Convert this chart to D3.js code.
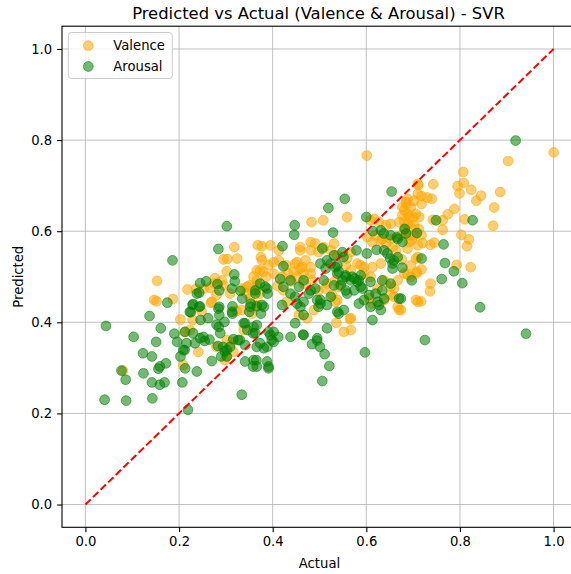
<!DOCTYPE html>
<html>
<head>
<meta charset="utf-8">
<script src="https://cdn.jsdelivr.net/npm/d3@7"></script>
<style>
  html, body { margin: 0; padding: 0; background: #fff; }
  svg { display: block; font-family: "DejaVu Sans", sans-serif; }
</style>
</head>
<body>
<svg id="chart" width="571" height="574"></svg>
<script>
// Valence: actual vs predicted
const valenceActual = [
  0.153,0.218,0.147,0.152,0.187,0.318,0.295,0.303,0.324,0.302,0.277,0.292,0.253,0.268,0.280,0.309,0.334,0.345,0.356,0.366,0.368,
  0.377,0.375,0.391,0.373,0.386,0.275,0.295,0.236,0.266,0.248,0.203,0.229,0.323,0.334,0.350,0.359,0.345,0.352,0.366,0.402,0.413,0.429,0.433,0.395,0.413,
  0.559,0.508,0.483,0.377,0.380,0.402,0.459,0.481,0.491,0.481,0.498,0.470,0.452,0.459,0.466,0.445,0.524,0.538,0.559,0.567,
  0.609,0.620,0.634,0.656,0.663,0.674,0.681,0.681,0.688,0.695,0.702,0.710,0.710,0.706,0.713,0.702,0.688,0.710,0.695,
  0.588,0.595,0.567,0.556,0.541,0.534,0.516,0.527,0.538,0.638,0.652,0.667,0.681,0.695,0.659,0.638,0.667,0.706,0.423,0.420,0.366,0.373,
  1.000,0.903,0.807,0.808,0.795,0.799,0.824,0.743,0.711,0.886,0.845,0.835,0.718,0.730,0.740,0.718,0.688,0.685,0.681,0.677,
  0.873,0.788,0.774,0.763,0.742,0.701,0.688,0.810,0.871,0.763,0.712,0.694,0.718,0.697,0.803,0.819,0.815,0.720,0.737,0.745,
  0.676,0.718,0.707,0.688,0.793,0.823,0.737,0.736,0.717,0.674,
  0.617,0.627,0.642,0.652,0.670,0.677,0.685,0.692,0.695,0.702,0.602,0.613,0.631,0.642,0.652,0.692,0.710,0.706,
  0.459,0.509,0.531,0.448,0.452,0.463,0.481,0.481,0.466,0.484,0.581,0.609,0.631,0.613,0.595,0.624,0.659,0.652,0.606,0.613,
  0.670,0.567,0.552,0.567,0.534,0.513,0.498,0.488,0.474,0.456,0.708,
  0.212,0.223,0.241,0.280,0.302,0.313,0.302,0.316,0.338,0.209,0.270,0.298,0.356,0.366,0.080,0.536,0.565,0.710,
  0.601,0.430,0.410,0.440
];
const valencePredicted = [
  0.491,0.472,0.449,0.446,0.451,0.565,0.538,0.539,0.540,0.512,0.497,0.492,0.474,0.443,0.460,0.463,0.474,0.478,0.470,0.481,0.569,
  0.567,0.543,0.526,0.514,0.500,0.485,0.481,0.473,0.476,0.424,0.406,0.405,0.425,0.427,0.481,0.500,0.463,0.452,0.514,0.507,0.536,0.525,0.507,0.569,0.558,
  0.631,0.624,0.620,0.536,0.511,0.532,0.558,0.576,0.573,0.558,0.554,0.536,0.532,0.518,0.507,0.511,0.558,0.547,0.540,0.554,
  0.624,0.591,0.583,0.565,0.558,0.591,0.602,0.620,0.638,0.653,0.667,0.682,0.704,0.638,0.631,0.591,0.562,0.543,0.525,
  0.525,0.521,0.514,0.525,0.478,0.492,0.485,0.460,0.449,0.492,0.478,0.492,0.507,0.500,0.456,0.449,0.434,0.449,0.470,0.500,0.492,0.463,
  0.773,0.754,0.730,0.706,0.699,0.683,0.691,0.703,0.701,0.686,0.678,0.667,0.677,0.674,0.671,0.660,0.671,0.660,0.646,0.635,
  0.652,0.649,0.637,0.624,0.625,0.631,0.616,0.626,0.612,0.603,0.605,0.591,0.591,0.581,0.592,0.582,0.567,0.574,0.570,0.575,
  0.538,0.516,0.507,0.505,0.526,0.521,0.485,0.468,0.446,0.427,
  0.627,0.620,0.613,0.616,0.620,0.653,0.664,0.631,0.609,0.613,0.587,0.576,0.580,0.573,0.583,0.576,0.569,0.540,
  0.565,0.565,0.573,0.529,0.500,0.521,0.521,0.507,0.485,0.492,0.529,0.500,0.529,0.521,0.507,0.474,0.474,0.460,0.452,0.441,
  0.427,0.409,0.379,0.383,0.445,0.474,0.470,0.427,0.409,0.416,0.511,
  0.379,0.383,0.335,0.346,0.361,0.357,0.325,0.335,0.383,0.306,0.445,0.317,0.419,0.438,0.294,0.399,0.407,0.445,
  0.766,0.445,0.480,0.490
];

// Arousal: actual vs predicted
const arousalActual = [
  0.044,0.103,0.137,0.161,0.190,0.151,0.123,0.142,0.172,0.156,0.077,0.124,0.086,0.142,0.159,0.169,0.041,0.087,0.143,0.207,0.238,0.213,0.219,0.334,0.270,0.203,
  0.225,0.229,0.243,0.213,0.196,0.216,0.212,0.255,0.245,0.265,0.280,0.286,0.288,0.297,0.283,0.294,0.302,0.290,0.314,0.316,0.326,0.341,0.358,0.358,0.365,0.366,
  0.302,0.284,0.186,0.245,0.258,0.282,0.318,0.319,0.238,0.243,0.286,0.313,0.331,0.335,0.175,0.230,0.245,0.286,0.314,0.363,0.352,0.366,0.223,0.284,
  0.246,0.262,0.313,0.353,0.363,0.373,0.350,0.381,0.375,0.388,0.389,0.416,0.423,0.421,0.338,0.346,0.285,
  0.554,0.519,0.654,0.447,0.446,0.529,0.600,0.423,0.506,0.516,0.502,0.513,0.524,0.534,0.549,0.551,0.541,0.556,0.549,0.567,0.575,0.584,
  0.579,0.601,0.622,0.631,0.637,0.638,0.645,0.659,0.656,0.677,0.652,0.667,0.677,0.682,0.697,
  0.466,0.481,0.491,0.502,0.524,0.545,0.556,0.574,0.588,0.595,0.606,0.620,0.634,0.634,0.638,0.652,0.384,0.438,0.456,0.466,0.452,0.420,0.459,0.498,0.516,0.584,0.609,
  0.614,0.665,0.685,0.708,0.531,0.538,0.538,0.556,0.570,0.581,0.588,0.592,0.609,0.656,0.651,0.667,0.559,0.531,0.509,0.477,0.495,
  0.466,0.448,0.516,0.502,0.538,0.552,0.627,0.631,0.613,0.670,0.466,0.495,0.438,0.448,
  0.919,0.749,0.827,0.765,0.718,0.768,0.787,0.761,0.805,0.843,0.674,0.941,0.725,
  0.230,0.234,0.252,0.309,0.330,0.341,0.363,0.373,0.388,0.402,0.412,0.395,0.209,0.298,0.302,0.366,0.381,0.359,0.366,0.388,0.391,0.341,0.159,
  0.438,0.465,0.484,0.495,0.501,0.511,0.521,0.506,0.597,
  0.377,0.359,0.391,0.402,0.398,0.391,0.541,0.624
];
const arousalPredicted = [
  0.392,0.368,0.414,0.387,0.375,0.357,0.332,0.325,0.310,0.298,0.294,0.288,0.274,0.268,0.263,0.268,0.230,0.228,0.233,0.268,0.292,0.299,0.208,0.241,0.315,0.325,
  0.422,0.438,0.434,0.379,0.357,0.354,0.339,0.359,0.365,0.362,0.395,0.416,0.376,0.401,0.348,0.346,0.339,0.325,0.419,0.363,0.361,0.398,0.376,0.303,0.317,0.394,
  0.611,0.561,0.536,0.486,0.490,0.484,0.505,0.490,0.463,0.465,0.470,0.474,0.469,0.452,0.443,0.440,0.435,0.434,0.435,0.470,0.434,0.435,0.423,0.430,
  0.405,0.409,0.423,0.441,0.463,0.485,0.423,0.434,0.419,0.474,0.463,0.495,0.478,0.567,0.398,0.383,0.390,
  0.671,0.651,0.687,0.613,0.592,0.597,0.631,0.523,0.562,0.536,0.529,0.518,0.529,0.521,0.554,0.543,0.511,0.503,0.492,0.492,0.496,0.492,
  0.558,0.551,0.559,0.602,0.595,0.558,0.551,0.536,0.518,0.520,0.591,0.583,0.576,0.605,0.492,
  0.492,0.470,0.474,0.449,0.456,0.481,0.470,0.470,0.478,0.449,0.460,0.463,0.492,0.470,0.452,0.485,0.478,0.463,0.478,0.445,0.441,0.438,0.434,0.434,0.438,0.441,0.434,
  0.600,0.587,0.595,0.596,0.547,0.525,0.507,0.500,0.500,0.489,0.503,0.474,0.489,0.529,0.540,0.543,0.463,0.481,0.492,0.463,0.449,
  0.416,0.398,0.387,0.441,0.423,0.427,0.438,0.427,0.405,0.452,0.372,0.365,0.492,0.456,
  0.799,0.624,0.624,0.571,0.540,0.530,0.512,0.495,0.486,0.433,0.452,0.375,0.361,
  0.376,0.354,0.368,0.346,0.361,0.350,0.376,0.354,0.346,0.357,0.368,0.372,0.339,0.336,0.325,0.346,0.343,0.317,0.303,0.314,0.303,0.314,0.303,
  0.368,0.373,0.352,0.360,0.346,0.330,0.304,0.271,0.334,
  0.438,0.390,0.379,0.379,0.361,0.299,0.419,0.445
];

const ticks = [0.0, 0.2, 0.4, 0.6, 0.8, 1.0];
const seriesNames = ["Valence", "Arousal"];
const seriesColors = ["orange", "green"];
const pointRadius = 4.9;
const pointAlpha = 0.55;

const svg = d3.select("#chart");
const plot = { left: 62, right: 577, top: 26.2, bottom: 527.3 };

const x = d3.scaleLinear().domain([-0.05, 1.05]).range([plot.left, plot.right]);
const y = d3.scaleLinear().domain([-0.05, 1.05]).range([plot.bottom, plot.top]);

// grid lines
const grid = svg.append("g");
grid.selectAll("line.vx").data(ticks).join("line")
  .attr("x1", d => x(d)).attr("x2", d => x(d))
  .attr("y1", plot.top).attr("y2", plot.bottom)
  .attr("stroke", "#b0b0b0").attr("stroke-opacity", 0.8).attr("stroke-width", 1);
grid.selectAll("line.hy").data(ticks).join("line")
  .attr("y1", d => y(d)).attr("y2", d => y(d))
  .attr("x1", plot.left).attr("x2", plot.right)
  .attr("stroke", "#b0b0b0").attr("stroke-opacity", 0.8).attr("stroke-width", 1);

// scatter points, clipped to the axes box
svg.append("clipPath").attr("id", "plotclip")
  .append("rect").attr("x", plot.left).attr("y", plot.top)
  .attr("width", plot.right - plot.left).attr("height", plot.bottom - plot.top);

const layers = svg.append("g").attr("clip-path", "url(#plotclip)");
const series = [
  { xs: valenceActual, ys: valencePredicted },
  { xs: arousalActual, ys: arousalPredicted }
];
series.forEach((s, i) => {
  layers.append("g").selectAll("circle")
    .data(s.xs.map((v, k) => [v, s.ys[k]]))
    .join("circle")
    .attr("cx", d => x(d[0]))
    .attr("cy", d => y(d[1]))
    .attr("r", pointRadius)
    .attr("fill", seriesColors[i]).attr("fill-opacity", pointAlpha)
    .attr("stroke", seriesColors[i]).attr("stroke-opacity", pointAlpha).attr("stroke-width", 1);
});

// identity line
layers.append("line")
  .attr("x1", x(0)).attr("y1", y(0)).attr("x2", x(1)).attr("y2", y(1))
  .attr("stroke", "red").attr("stroke-width", 2)
  .attr("stroke-dasharray", "7.4,3.2");

// axes
const fmt = d3.format(".1f");
const xAxis = svg.append("g").attr("transform", `translate(0,${plot.bottom})`)
  .call(d3.axisBottom(x).tickValues(ticks).tickFormat(fmt).tickSize(4.9).tickPadding(4.9));
const yAxis = svg.append("g").attr("transform", `translate(${plot.left},0)`)
  .call(d3.axisLeft(y).tickValues(ticks).tickFormat(fmt).tickSize(4.9).tickPadding(4.9));
[xAxis, yAxis].forEach(a => {
  a.select(".domain").remove();
  a.selectAll("text").attr("font-size", "13.2px").attr("fill", "#000")
    .attr("font-family", "DejaVu Sans, sans-serif");
  a.selectAll("line").attr("stroke", "#000").attr("stroke-width", 1.1);
});

// spines
svg.append("rect")
  .attr("x", plot.left).attr("y", plot.top)
  .attr("width", plot.right - plot.left).attr("height", plot.bottom - plot.top)
  .attr("fill", "none").attr("stroke", "#000").attr("stroke-width", 1.1);

// labels
svg.append("text").attr("x", (plot.left + plot.right) / 2 - 1).attr("y", 18.5)
  .attr("text-anchor", "middle").attr("font-size", "16.4px")
  .text("Predicted vs Actual (Valence & Arousal) - SVR");
svg.append("text").attr("x", (plot.left + plot.right) / 2).attr("y", 568)
  .attr("text-anchor", "middle").attr("font-size", "13.2px").text("Actual");
svg.append("text")
  .attr("transform", `translate(23,${(plot.top + plot.bottom) / 2}) rotate(-90)`)
  .attr("text-anchor", "middle").attr("font-size", "13.2px").text("Predicted");

// legend
const legend = svg.append("g");
legend.append("rect").attr("x", 68.3).attr("y", 32.5).attr("width", 104).attr("height", 46)
  .attr("rx", 3).attr("fill", "#fff").attr("fill-opacity", 0.8)
  .attr("stroke", "#cccccc").attr("stroke-width", 1);
seriesNames.forEach((name, i) => {
  const cy = 45.7 + i * 20.8;
  legend.append("circle").attr("cx", 88.3).attr("cy", cy).attr("r", pointRadius)
    .attr("fill", seriesColors[i]).attr("fill-opacity", pointAlpha)
    .attr("stroke", seriesColors[i]).attr("stroke-opacity", pointAlpha).attr("stroke-width", 1);
  legend.append("text").attr("x", 113.3).attr("y", cy + 4.7)
    .attr("font-size", "13.2px").text(name);
});
</script>
</body>
</html>
